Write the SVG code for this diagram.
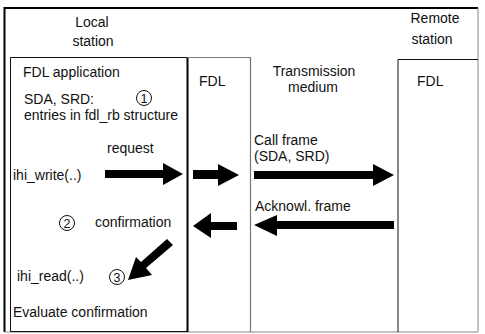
<svg xmlns="http://www.w3.org/2000/svg" width="485" height="334" viewBox="0 0 485 334">
<style>
text{font-family:"Liberation Sans",Arial,sans-serif;font-size:14px;fill:#111}
.num{font-size:12.5px}
.arrow{fill:#000;stroke:none}
.circ{fill:none;stroke:#111;stroke-width:1}
</style>
<rect x="0" y="0" width="485" height="334" fill="#fff"/>
<g id="frame">
<path d="M4.5 332 V8 H478" fill="none" stroke="#000" stroke-width="2"/>
<path d="M478 8 V332 H4.5" fill="none" stroke="#888" stroke-width="1"/>
</g>
<g id="local-station-label">
<text x="92" y="27" text-anchor="middle">Local</text>
<text x="93" y="46" text-anchor="middle">station</text>
</g>
<g id="fdl-application">
<path d="M187 57.5 H10.5 V331.5 H187" fill="none" stroke="#111" stroke-width="1"/>
<text x="23" y="77">FDL application</text>
<text x="24" y="104">SDA, SRD:</text>
<circle class="circ" cx="144" cy="98" r="7.5"/>
<text class="num" x="144" y="102.5" text-anchor="middle">1</text>
<text x="24" y="119.5">entries in fdl_rb structure</text>
<text x="107" y="153">request</text>
<text x="13" y="180">ihi_write(..)</text>
<circle class="circ" cx="67" cy="223" r="7.5"/>
<text class="num" x="67" y="227.5" text-anchor="middle">2</text>
<text x="95" y="227">confirmation</text>
<text x="17" y="281">ihi_read(..)</text>
<circle class="circ" cx="117" cy="277" r="7.5"/>
<text class="num" x="117" y="281.5" text-anchor="middle">3</text>
<text x="13" y="317">Evaluate confirmation</text>
</g>
<g id="local-fdl">
<line x1="187.5" y1="57" x2="187.5" y2="332" stroke="#000" stroke-width="2"/>
<path d="M187 57.5 H250.5 V332" fill="none" stroke="#777" stroke-width="1.2"/>
<text x="199" y="86">FDL</text>
</g>
<g id="transmission-medium">
<text x="314" y="76" text-anchor="middle">Transmission</text>
<text x="313" y="92" text-anchor="middle">medium</text>
<text x="254" y="145">Call frame</text>
<text x="254" y="160.5">(SDA, SRD)</text>
<text x="255" y="211">Acknowl. frame</text>
</g>
<g id="remote-station">
<text x="435" y="23" text-anchor="middle">Remote</text>
<text x="432" y="44" text-anchor="middle">station</text>
<path d="M398 332 V59.5 H478" fill="none" stroke="#111" stroke-width="1"/>
<text x="417" y="86">FDL</text>
</g>
<g id="connectors">
<polygon class="arrow" points="105,170 163,170 163,163 183,174 163,185 163,178 105,178"/>
<polygon class="arrow" points="193,170 218,170 218,164 239,175 218,186 218,179 193,179"/>
<polygon class="arrow" points="254,171 373,171 373,164 394,175 373,186 373,179 254,179"/>
<polygon class="arrow" points="237,222 211,222 211,213 193,226 211,238 211,230 237,230"/>
<polygon class="arrow" points="394,221 277,221 277,215 254,225 277,236 277,229 394,229"/>
<polygon class="arrow" points="167,239 173,245 146,268 152,275 128,280 136,257 141,262"/>
</g>
</svg>
